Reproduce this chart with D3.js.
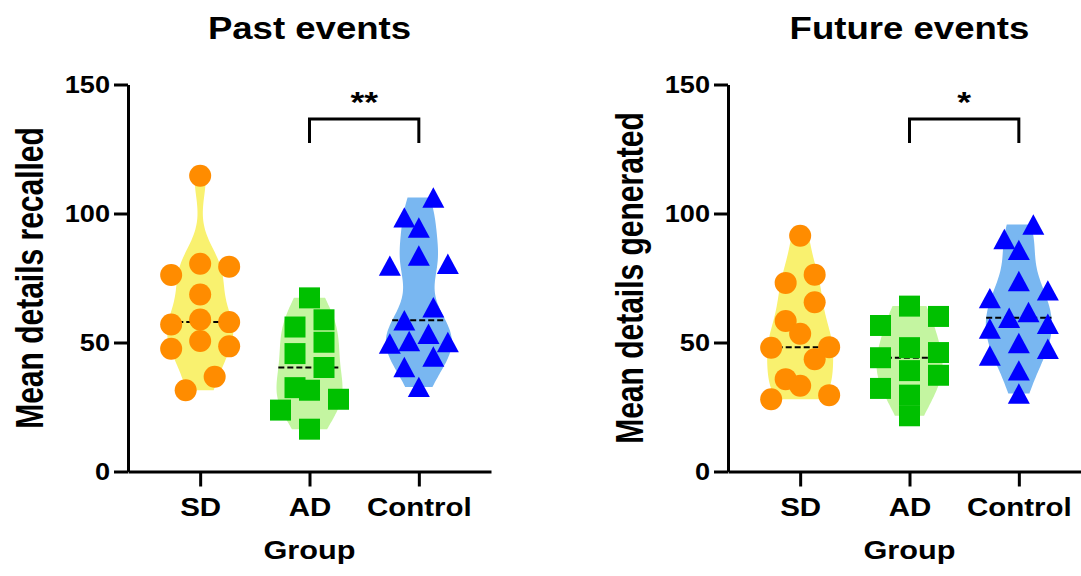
<!DOCTYPE html>
<html>
<head>
<meta charset="utf-8">
<script src="https://cdn.jsdelivr.net/npm/d3@7"></script>
<style>
  html, body { margin: 0; padding: 0; background: #fff; }
  svg text { font-family: "Liberation Sans", Arial, Helvetica, sans-serif; font-weight: bold; fill: #000; }
</style>
</head>
<body>
<svg id="chart" width="1081" height="576"></svg>
<script>
// ---- data ----
const groups = ["SD", "AD", "Control"];
const yTicks = [0, 50, 100, 150];

const pastSD      = [114.6, 80.5, 79.4, 76.2, 68.6, 58.9, 57.9, 57.0, 50.6, 48.5, 47.6, 36.7, 31.5];
const pastAD      = [67.3, 58.8, 56.0, 50.1, 45.7, 40.3, 32.5, 31.5, 28.0, 23.8, 16.4];
const pastControl = [106.2, 98.5, 94.6, 83.7, 80.5, 79.8, 63.7, 58.6, 53.4, 50.6, 50.2, 49.6, 44.6, 40.5, 32.8];

const futureSD      = [91.4, 76.3, 73.1, 65.6, 58.3, 53.4, 48.2, 48.0, 43.5, 35.8, 33.2, 29.6, 28.0];
const futureAD      = [64.1, 60.1, 56.6, 48.0, 46.1, 44.1, 39.1, 37.3, 32.2, 29.6, 21.6];
const futureControl = [95.7, 90.1, 85.9, 73.8, 70.2, 67.2, 61.8, 59.6, 57.3, 55.4, 49.8, 47.6, 45.0, 39.2, 30.2];

const panelTitles  = ["Past events", "Future events"];
const panelYLabels = ["Mean details recalled", "Mean details generated"];
const panelStars   = ["**", "*"];
const panelSeries  = [[pastSD, pastAD, pastControl], [futureSD, futureAD, futureControl]];
const xTitle = "Group";

// ---- styling ----
const violinFill  = ["#F9F16F", "#C4F5A1", "#79B7F1"];
const markerFill  = ["#FF8C00", "#00C000", "#0000FF"];
const triangle = {
  draw(ctx, size) {
    const w = Math.sqrt(size), h = w * 0.93;
    ctx.moveTo(0, -h / 2);
    ctx.lineTo(w / 2, h / 2);
    ctx.lineTo(-w / 2, h / 2);
    ctx.closePath();
  }
};
const markerType = [d3.symbolCircle, d3.symbolSquare, triangle];
const markerSize = [Math.PI * 11 * 11, 21 * 21, 22 * 22];

const STRETCH = 1.18;      // horizontal widening of the lettering
const STRETCH_Y = 1.28;    // widening across the rotated axis titles
const panelShift = 600;

const svg = d3.select("#chart");

const y = d3.scaleLinear().domain([0, 150]).range([471.5, 84.5]);
const x = d3.scalePoint().domain(groups).range([128, 491]).padding(0.66);

// kernel density of one group, cut at its min and max
const bandwidth = 9, maxHalf = 33;
function density(values, t) {
  return d3.sum(values, v => Math.exp(-0.5 * ((t - v) / bandwidth) ** 2));
}
function violinProfile(values) {
  const [lo, hi] = d3.extent(values);
  const grid = d3.range(0, 61).map(i => lo + (hi - lo) * i / 60);
  const dens = grid.map(t => density(values, t));
  const m = d3.max(dens);
  return { pts: grid.map((t, i) => ({ v: t, w: dens[i] / m * maxHalf })), peak: m };
}

// spread points of similar value into centred rows
function spreadOffsets(values, lane, gapPx) {
  const sorted = values.slice().sort((a, b) => b - a);
  const rows = [];
  let cur = null;
  for (const v of sorted) {
    if (cur && y(v) - y(cur[0]) < gapPx) cur.push(v);
    else { cur = [v]; rows.push(cur); }
  }
  const out = [];
  for (const row of rows) {
    const n = row.length;
    const step = n <= 3 ? lane : 2 * lane / (n - 1);
    const slots = d3.range(n).map(k => (k - (n - 1) / 2) * step);
    slots.sort((a, b) => (Math.abs(a) - Math.abs(b)) || (b - a));
    row.forEach((v, k) => out.push({ v, dx: slots[k] }));
  }
  return out;
}

function stretchedText(g, str, px, py, size, anchor, rotate) {
  return g.append("text")
    .attr("transform", `translate(${px},${py}) scale(${rotate ? STRETCH_Y : STRETCH},1)` + (rotate ? " rotate(-90)" : ""))
    .attr("text-anchor", anchor)
    .style("font-size", size + "px")
    .text(str);
}

panelSeries.forEach((series, p) => {
  const g = svg.append("g").attr("transform", `translate(${p * panelShift},0)`);

  // violins
  series.forEach((vals, i) => {
    const cx = x(groups[i]);
    const prof = violinProfile(vals);
    const area = d3.area()
      .y(d => y(d.v))
      .x0(d => cx - d.w)
      .x1(d => cx + d.w)
      .curve(d3.curveCatmullRom);
    g.append("path").datum(prof.pts).attr("d", area).attr("fill", violinFill[i]);

    const med = d3.median(vals);
    const hw = density(vals, med) / prof.peak * maxHalf;
    g.append("line")
      .attr("x1", cx - hw).attr("x2", cx + hw)
      .attr("y1", y(med)).attr("y2", y(med))
      .attr("stroke", "#000").attr("stroke-width", 2).attr("stroke-dasharray", "6,3");
  });

  // points
  series.forEach((vals, i) => {
    const cx = x(groups[i]);
    const sym = d3.symbol().type(markerType[i]).size(markerSize[i]);
    g.append("g").selectAll("path")
      .data(spreadOffsets(vals, 29, 20.5))
      .join("path")
      .attr("transform", d => `translate(${cx + d.dx},${y(d.v)})`)
      .attr("d", sym)
      .attr("fill", markerFill[i]);
  });

  // axes
  const ya = g.append("g").attr("transform", `translate(${x.range()[0]},0)`)
    .call(d3.axisLeft(y).tickValues(yTicks).tickSize(14).tickSizeOuter(0).tickPadding(4));
  const xa = g.append("g").attr("transform", `translate(0,${y(0)})`)
    .call(d3.axisBottom(x).tickSize(15).tickSizeOuter(0));
  [ya, xa].forEach(a => {
    a.attr("font-family", null).attr("font-size", null);
    a.select(".domain").attr("stroke", "#000").attr("stroke-width", 3);
    a.selectAll(".tick line").attr("stroke", "#000").attr("stroke-width", 3);
  });
  ya.selectAll(".tick text")
    .attr("x", -18 / STRETCH)
    .attr("dy", "0.35em")
    .attr("transform", `scale(${STRETCH},1)`)
    .style("font-size", "23px");
  xa.selectAll(".tick text")
    .attr("y", 27).attr("dy", "0.71em")
    .attr("transform", `scale(${STRETCH},1)`)
    .style("font-size", "25px");

  const midX = (x.range()[0] + x.range()[1]) / 2;
  stretchedText(g, panelTitles[p], midX, 39, 31, "middle", false);
  stretchedText(g, xTitle, midX, 559, 26, "middle", false);
  stretchedText(g, panelYLabels[p], 43, (y(0) + y(150)) / 2, 30, "middle", true);

  // significance bracket between AD and Control
  const bx0 = x("AD"), bx1 = x("Control");
  g.append("path")
    .attr("d", `M${bx0},143V119H${bx1}V143`)
    .attr("fill", "none").attr("stroke", "#000").attr("stroke-width", 3);
  stretchedText(g, panelStars[p], (bx0 + bx1) / 2, 112, 30, "middle", false);
});
</script>
</body>
</html>
